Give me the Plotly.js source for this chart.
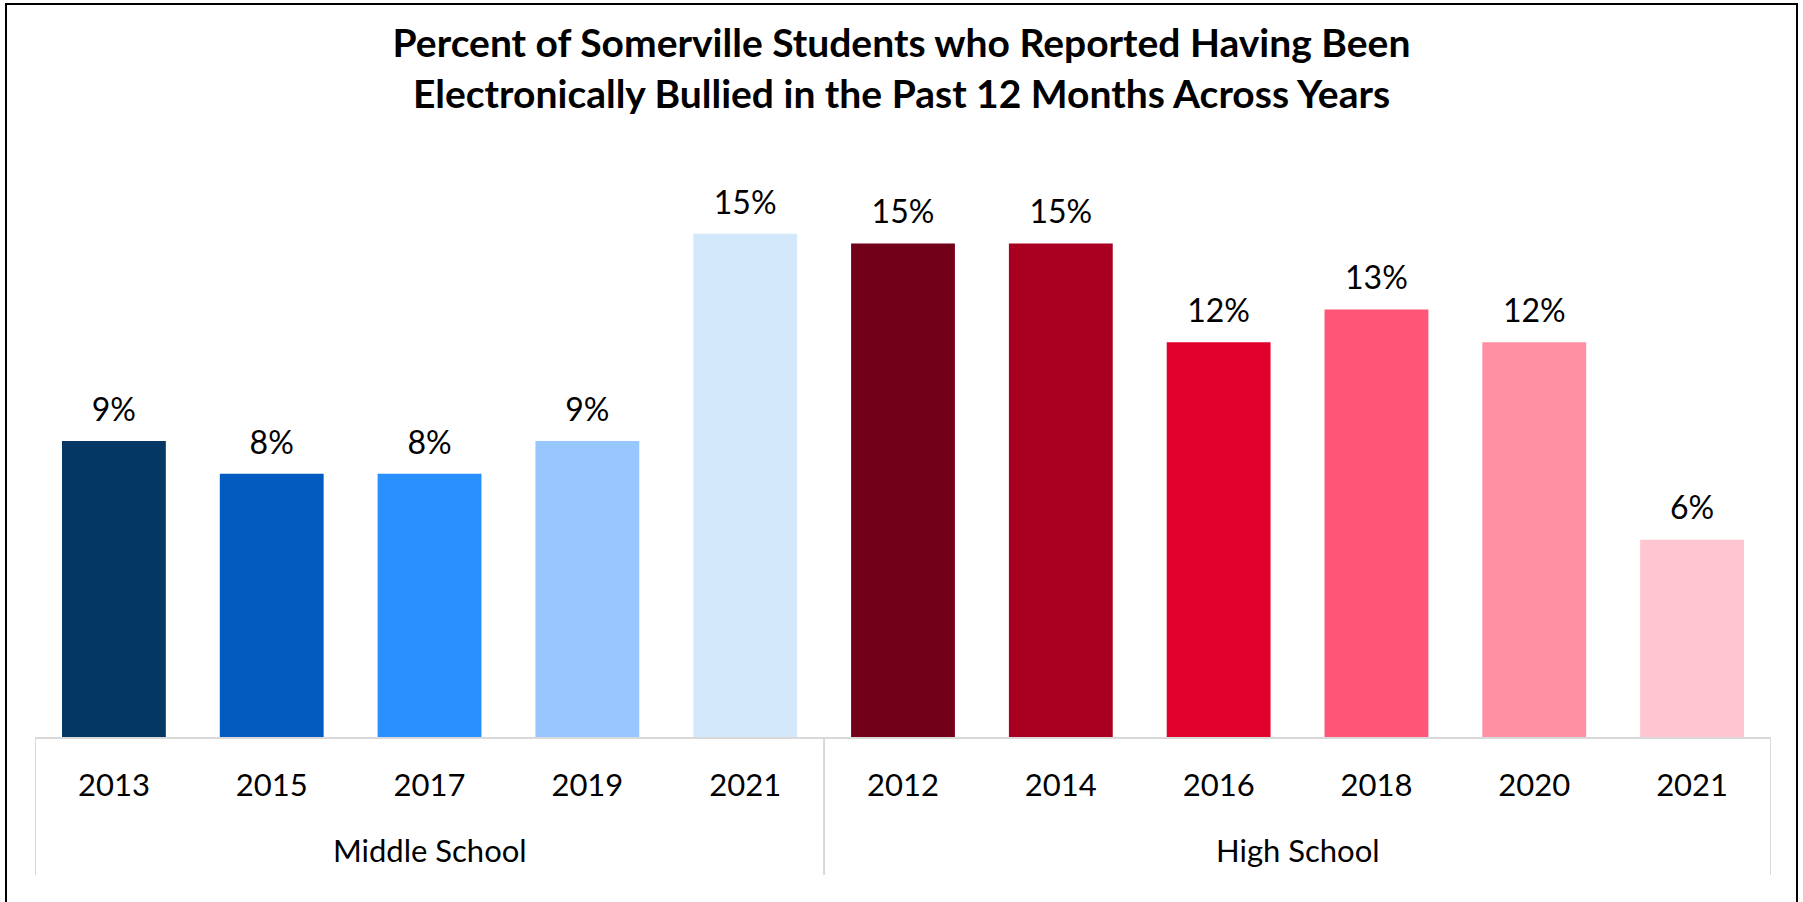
<!DOCTYPE html>
<html>
<head>
<meta charset="utf-8">
<script src="https://cdn.plot.ly/plotly-3.0.1.min.js"></script>
<style>
  html, body { margin: 0; padding: 0; background: #ffffff; }
  #chart { position: absolute; left: 0; top: 0; width: 1803px; height: 902px; }
  #frame { position: absolute; left: 5px; top: 3px; width: 1793px; height: 899px;
           box-sizing: border-box; border-left: 2px solid #000; border-top: 2px solid #000;
           border-right: 2px solid #000; pointer-events: none; z-index: 10; }
</style>
</head>
<body>
<div id="chart"></div>
<div id="frame"></div>
<script>
// ---- data ----
const groupNames = ["Middle School", "High School"];
const msYears = ["2013", "2015", "2017", "2019", "2021"];
const msValues = [9.0, 8.0, 8.0, 9.0, 15.3];
const hsYears = ["2012", "2014", "2016", "2018", "2020", "2021"];
const hsValues = [15.0, 15.0, 12.0, 13.0, 12.0, 6.0];
const msColors = ["#043763", "#025BBF", "#2A8FFF", "#98C7FF", "#D4E8FC"];
const hsColors = ["#730019", "#A90022", "#E2002C", "#FF5677", "#FF8FA3", "#FFC5D0"];

// ---- build ----
const groups = [msYears, hsYears];
const years = msYears.concat(hsYears);
const yVals = msValues.concat(hsValues);
const colors = msColors.concat(hsColors);
const xPos = years.map((_, i) => i);
const labels = yVals.map(v => Math.round(v) + "%");

// group boundaries / centers in category index units
const bounds = [-0.5];
const centers = [];
let start = 0;
groups.forEach(g => {
  centers.push(start + (g.length - 1) / 2);
  start += g.length;
  bounds.push(start - 0.5);
});

const FONT = "Lato, 'Open Sans', sans-serif";
const GRID = "#d9d9d9";

const bars = {
  type: "bar",
  x: xPos,
  y: yVals,
  marker: { color: colors, line: { width: 0 } },
  hoverinfo: "skip",
  showlegend: false
};

const texts = {
  type: "scatter",
  mode: "markers+text",
  x: xPos,
  y: yVals,
  text: labels,
  textposition: "top center",
  textfont: { family: FONT, size: 32, color: "#000000" },
  marker: { size: 18, color: "rgba(0,0,0,0)" },
  hoverinfo: "skip",
  showlegend: false,
  cliponaxis: false
};

const DIV_DEPTH = -138 / 572;

const shapes = bounds.map(b => ({
  type: "line",
  xref: "x", yref: "paper",
  x0: b, x1: b, y0: 0, y1: DIV_DEPTH,
  line: { color: GRID, width: 2 },
  layer: "below"
}));

const annotations = groupNames.map((name, i) => ({
  text: name,
  xref: "x", yref: "paper",
  x: centers[i], y: 0,
  yshift: -113,
  xanchor: "center", yanchor: "middle",
  showarrow: false,
  font: { family: FONT, size: 31, color: "#000000" }
}));

const layout = {
  width: 1803,
  height: 902,
  paper_bgcolor: "#ffffff",
  plot_bgcolor: "#ffffff",
  margin: { l: 35, r: 32, t: 165, b: 165, pad: 0 },
  bargap: 0.342,
  font: { family: FONT, color: "#000000" },
  title: {
    text: "<b>Percent of Somerville Students who Reported Having Been<br>Electronically Bullied in the Past 12 Months Across Years</b>",
    font: { family: FONT, size: 39, color: "#000000" },
    x: 0.5,
    xref: "container",
    xanchor: "center",
    y: 1 - 57 / 902,
    yref: "container",
    yanchor: "top"
  },
  xaxis: {
    type: "linear",
    range: [bounds[0], bounds[bounds.length - 1]],
    tickmode: "array",
    tickvals: xPos,
    ticktext: years,
    showline: true,
    linecolor: GRID,
    linewidth: 2,
    ticks: "",
    ticklabelstandoff: 20,
    showgrid: false,
    zeroline: false,
    tickfont: { family: FONT, size: 31, color: "#000000" },
    fixedrange: true
  },
  yaxis: {
    visible: false,
    range: [0, 17.39],
    showgrid: false,
    zeroline: false,
    fixedrange: true
  },
  shapes: shapes,
  annotations: annotations
};

Plotly.newPlot("chart", [bars, texts], layout, { displayModeBar: false, staticPlot: true });
</script>
</body>
</html>
